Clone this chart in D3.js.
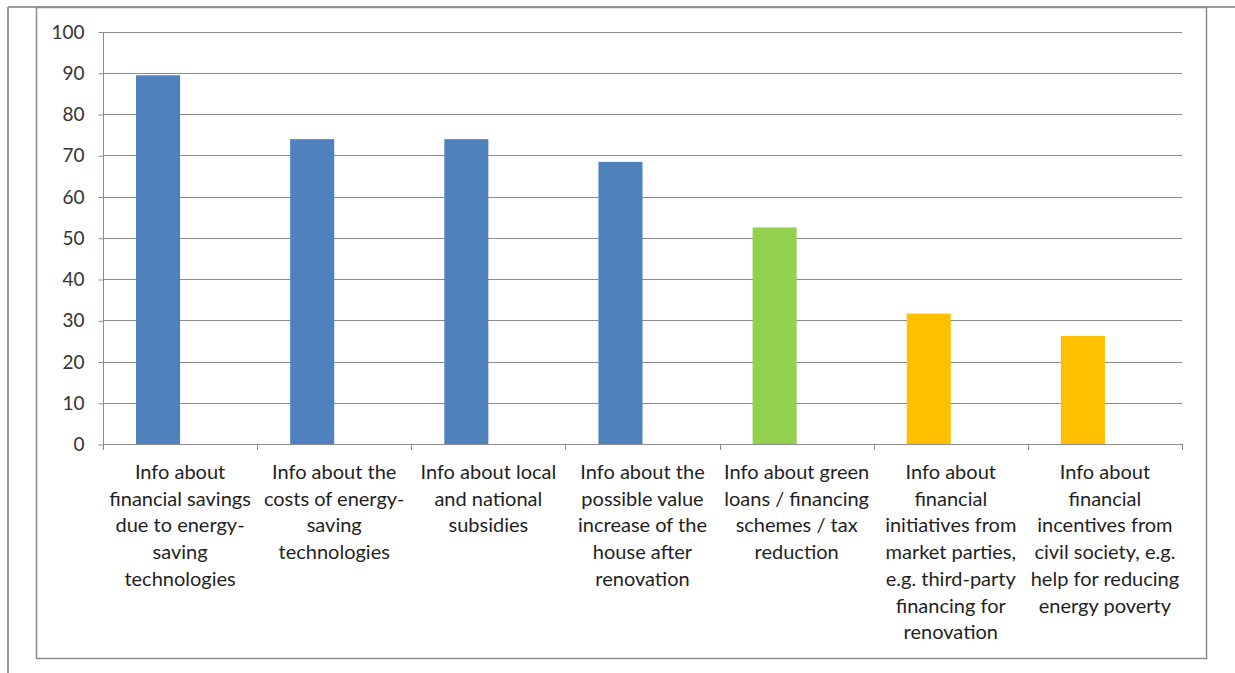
<!DOCTYPE html>
<html><head><meta charset="utf-8">
<script src="https://cdn.jsdelivr.net/npm/d3@7"></script>
<style>html,body{margin:0;padding:0;background:#fff;}svg{display:block;}</style>
</head><body>
<svg id="c" width="1235" height="673"></svg>
<script>
const categories = [
  "Info about\nfinancial savings\ndue to energy-\nsaving\ntechnologies",
  "Info about the\ncosts of energy-\nsaving\ntechnologies",
  "Info about local\nand national\nsubsidies",
  "Info about the\npossible value\nincrease of the\nhouse after\nrenovation",
  "Info about green\nloans / financing\nschemes / tax\nreduction",
  "Info about\nfinancial\ninitiatives from\nmarket parties,\ne.g. third-party\nfinancing for\nrenovation",
  "Info about\nfinancial\nincentives from\ncivil society, e.g.\nhelp for reducing\nenergy poverty"
];
const values = [89.4, 73.9, 73.9, 68.4, 52.5, 31.6, 26.2];
const groups = ["blue", "blue", "blue", "blue", "green", "yellow", "yellow"];
const yTicks = [0, 10, 20, 30, 40, 50, 60, 70, 80, 90, 100];
const palette = {blue: "#4F81BD", green: "#92D050", yellow: "#FFC000"};

(function() {
const svg = d3.select("#c");
const font = "Lato, 'Open Sans', sans-serif";

// outer frame lines
svg.append("line").attr("x1", 8).attr("x2", 1235).attr("y1", 7).attr("y2", 7).attr("stroke", "#9a9a9a").attr("stroke-width", 2);
svg.append("line").attr("x1", 8).attr("x2", 8).attr("y1", 7).attr("y2", 673).attr("stroke", "#9a9a9a").attr("stroke-width", 2);
// chart box
svg.append("rect").attr("x", 36.5).attr("y", 7.5).attr("width", 1170).attr("height", 651)
  .attr("fill", "#fff").attr("stroke", "#8c8c8c").attr("stroke-width", 1.5);

const pLeft = 103, pRight = 1182, pTop = 31.5, pBottom = 444;
const x = d3.scaleBand().domain(d3.range(categories.length)).range([pLeft, pRight]).paddingInner(0).paddingOuter(0);
const xSub = d3.scaleBand().domain([0, 1]).range([0, x.bandwidth()]).paddingInner(0).paddingOuter(0.75);
const y = d3.scaleLinear().domain([0, 100]).range([pBottom, pTop]);

// gridlines
svg.append("g").selectAll("line").data(yTicks.filter(d => d > 0)).join("line")
  .attr("x1", pLeft).attr("x2", pRight)
  .attr("y1", d => Math.round(y(d)) + 0.5).attr("y2", d => Math.round(y(d)) + 0.5)
  .attr("stroke", "#8c8c8c").attr("stroke-width", 1);

// bars
svg.append("g").selectAll("rect").data(values).join("rect")
  .attr("x", (d, i) => x(i) + xSub(0))
  .attr("width", xSub.bandwidth())
  .attr("y", d => y(d))
  .attr("height", d => y(0) - y(d))
  .attr("fill", (d, i) => palette[groups[i]]);

// y axis
const yAxis = d3.axisLeft(y).tickValues(yTicks).tickSize(5).tickPadding(14).tickFormat(d3.format("d"));
const gy = svg.append("g").attr("transform", `translate(${pLeft + 0.5},0.5)`).call(yAxis);
gy.select(".domain").attr("stroke", "#8c8c8c").attr("d", `M0,${pTop}V${pBottom}`);
gy.selectAll(".tick line").attr("stroke", "#8c8c8c");
gy.selectAll(".tick text").attr("font-family", font).attr("font-size", 19).attr("fill", "#333");

// x axis line + boundary ticks
svg.append("line").attr("x1", pLeft).attr("x2", pRight).attr("y1", pBottom + 0.5).attr("y2", pBottom + 0.5).attr("stroke", "#8c8c8c");
const bounds = d3.range(categories.length + 1).map(i => pLeft + i * x.step());
svg.append("g").selectAll("line").data(bounds).join("line")
  .attr("x1", d => Math.round(d) + 0.5).attr("x2", d => Math.round(d) + 0.5)
  .attr("y1", pBottom).attr("y2", pBottom + 6).attr("stroke", "#8c8c8c");

// category labels
const lbl = svg.append("g").selectAll("text").data(categories).join("text")
  .attr("x", (d, i) => x(i) + x.bandwidth() / 2)
  .attr("y", 479)
  .attr("text-anchor", "middle")
  .attr("font-family", font).attr("font-size", 20).attr("fill", "#1f1f1f");
lbl.each(function(d, i) {
  const t = d3.select(this);
  d.split("\n").forEach((line, k) => {
    t.append("tspan").attr("x", x(i) + x.bandwidth() / 2).attr("dy", k === 0 ? 0 : 26.7).text(line);
  });
});
})();
</script>
</body></html>
